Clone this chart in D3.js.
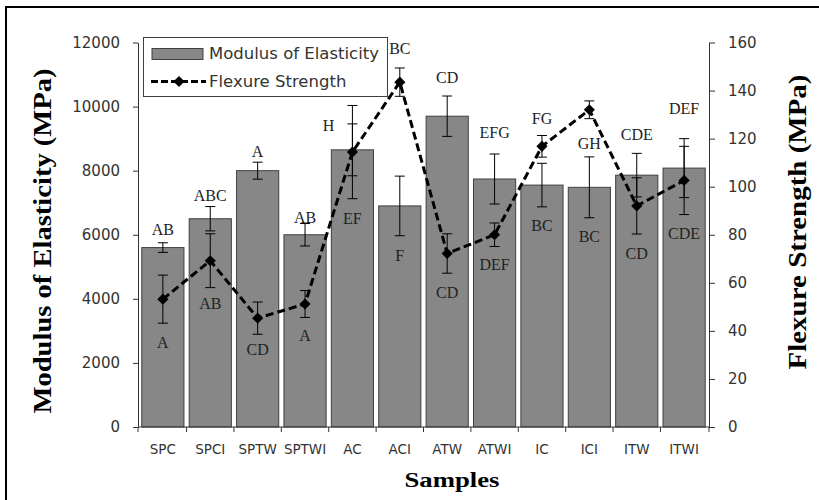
<!DOCTYPE html>
<html>
<head>
<meta charset="utf-8">
<script src="https://cdn.jsdelivr.net/npm/d3@7"></script>
<style>
  html, body { margin: 0; padding: 0; background: #fff; }
  svg { display: block; }
  .tick-label { font-family: "DejaVu Sans", sans-serif; fill: #333; }
  .letter { font-family: "Liberation Serif", serif; font-size: 16px; fill: #222; text-anchor: middle; }
  .title { font-family: "Liberation Serif", serif; font-weight: bold; fill: #000; }
</style>
</head>
<body>
<svg width="819" height="500"></svg>
<script>

const samples = ['SPC', 'SPCI', 'SPTW', 'SPTWI', 'AC', 'ACI', 'ATW', 'ATWI', 'IC', 'ICI', 'ITW', 'ITWI'];

const modulus    = [5600, 6500, 8000, 6000, 8650, 6900, 9700, 7740, 7550, 7480, 7860, 8080];
const modulusErr = [150, 380, 265, 350, 810, 930, 630, 780, 680, 950, 680, 920];

const flexure    = [53.2, 69.2, 45.3, 51.2, 114.4, 143.5, 72.2, 80.0, 116.8, 132.0, 92.0, 102.6];
const flexureErr = [10.0, 11.2, 6.7, 5.6, 19.4, 5.9, 8.2, 4.9, 4.5, 3.7, 11.7, 14.2];

// significance letters and where they sit (in MPa of the left axis)
const topLetters    = ['AB', 'ABC', 'A', 'AB', 'H', 'BC', 'CD', 'EFG', 'FG', 'GH', 'CDE', 'DEF'];
const topLetterAt   = [6180, 7240, 8610, 6550, 9425, 11830, 10920, 9190, 9640, 8850, 9145, 9955];
const lowLetters    = ['A', 'AB', 'CD', 'A', 'EF', 'F', 'CD', 'DEF', 'BC', 'BC', 'CD', 'CDE'];
const lowLetterAt   = [2650, 3870, 2420, 2870, 6520, 5370, 4210, 5090, 6280, 5960, 5430, 6055];

const leftTicks  = [0, 2000, 4000, 6000, 8000, 10000, 12000];
const rightTicks = [0, 20, 40, 60, 80, 100, 120, 140, 160];

const svg = d3.select('svg');

const plot = { left: 138, right: 709, top: 42.5, bottom: 427 };

const x = d3.scaleBand()
  .domain(samples)
  .range([plot.left, plot.right])
  .paddingInner(0.11)
  .paddingOuter(0.08);

const yL = d3.scaleLinear().domain([0, 12000]).range([plot.bottom, plot.top]);
const yR = d3.scaleLinear().domain([0, 160]).range([plot.bottom, plot.top]);

const cx = s => x(s) + x.bandwidth() / 2;

// outer frame
svg.append('rect')
  .attr('x', 6).attr('y', 7)
  .attr('width', 840).attr('height', 520)
  .attr('fill', 'none')
  .attr('stroke', '#000')
  .attr('stroke-width', 2);

// bars
svg.append('g')
  .selectAll('rect')
  .data(samples)
  .join('rect')
    .attr('x', d => x(d))
    .attr('y', (d, i) => yL(modulus[i]))
    .attr('width', x.bandwidth())
    .attr('height', (d, i) => yL(0) - yL(modulus[i]))
    .attr('fill', '#878787')
    .attr('stroke', '#404040')
    .attr('stroke-width', 1);

// error bars
function errorBars(vals, errs, scale) {
  const g = svg.append('g').attr('stroke', '#000').attr('stroke-width', 1);
  samples.forEach((s, i) => {
    const xc = cx(s);
    const y0 = scale(vals[i] - errs[i]);
    const y1 = scale(vals[i] + errs[i]);
    g.append('line').attr('x1', xc).attr('x2', xc).attr('y1', y0).attr('y2', y1);
    [y0, y1].forEach(yy => {
      g.append('line').attr('x1', xc - 5).attr('x2', xc + 5).attr('y1', yy).attr('y2', yy);
    });
  });
}
errorBars(modulus, modulusErr, yL);
errorBars(flexure, flexureErr, yR);

// flexure line
const line = d3.line()
  .x((d, i) => cx(samples[i]))
  .y(d => yR(d));

svg.append('path')
  .datum(flexure)
  .attr('d', line)
  .attr('fill', 'none')
  .attr('stroke', '#000')
  .attr('stroke-width', 3)
  .attr('stroke-dasharray', '8,4');

const diamond = d3.symbol().type(d3.symbolSquare).size(62);

svg.append('g')
  .selectAll('path')
  .data(flexure)
  .join('path')
    .attr('d', diamond)
    .attr('transform', (d, i) => `translate(${cx(samples[i])},${yR(d)}) rotate(45)`)
    .attr('fill', '#000');

// letters
svg.append('g')
  .selectAll('text')
  .data(topLetters)
  .join('text')
    .attr('class', 'letter')
    .attr('x', (d, i) => cx(samples[i]) + (samples[i] === 'AC' ? -24 : 0))
    .attr('y', (d, i) => yL(topLetterAt[i]))
    .attr('dy', '0.35em')
    .text(d => d);

svg.append('g')
  .selectAll('text')
  .data(lowLetters)
  .join('text')
    .attr('class', 'letter')
    .attr('x', (d, i) => cx(samples[i]))
    .attr('y', (d, i) => yL(lowLetterAt[i]))
    .attr('dy', '0.35em')
    .text(d => d);

// axes
const leftAxis = d3.axisLeft(yL).tickValues(leftTicks).tickSize(5).tickPadding(13).tickSizeOuter(0).tickFormat(d3.format('d'));
const rightAxis = d3.axisRight(yR).tickValues(rightTicks).tickSize(6).tickPadding(13).tickSizeOuter(0);

const gl = svg.append('g').attr('transform', `translate(${plot.left},0)`).call(leftAxis);
const gr = svg.append('g').attr('transform', `translate(${plot.right},0)`).call(rightAxis);

[gl, gr].forEach(g => {
  g.select('.domain').attr('stroke', '#333');
  g.selectAll('.tick line').attr('stroke', '#333');
  g.selectAll('.tick text')
    .attr('class', 'tick-label')
    .style('font-size', '15px');
});

// category axis
const step = x.step();
const gx = svg.append('g');
gx.append('line')
  .attr('x1', plot.left).attr('x2', plot.right)
  .attr('y1', plot.bottom).attr('y2', plot.bottom)
  .attr('stroke', '#333');

const bounds = samples.map(s => x(s) - (step - x.bandwidth()) / 2).concat([plot.right]);
bounds[0] = plot.left;
gx.selectAll('.xt')
  .data(bounds)
  .join('line')
    .attr('class', 'xt')
    .attr('x1', d => d).attr('x2', d => d)
    .attr('y1', plot.bottom).attr('y2', plot.bottom + 5)
    .attr('stroke', '#333');

gx.selectAll('text')
  .data(samples)
  .join('text')
    .attr('class', 'tick-label')
    .attr('x', d => cx(d))
    .attr('y', 449)
    .attr('dy', '0.35em')
    .attr('text-anchor', 'middle')
    .style('font-size', '13.5px')
    .text(d => d);

// titles
svg.append('text')
  .attr('class', 'title')
  .attr('transform', 'translate(42,241) rotate(-90)')
  .attr('dy', '0.35em')
  .attr('text-anchor', 'middle')
  .attr('textLength', 345)
  .attr('lengthAdjust', 'spacingAndGlyphs')
  .style('font-size', '26px')
  .text('Modulus of Elasticity (MPa)');

svg.append('text')
  .attr('class', 'title')
  .attr('transform', 'translate(797,222) rotate(-90)')
  .attr('dy', '0.35em')
  .attr('text-anchor', 'middle')
  .attr('textLength', 295)
  .attr('lengthAdjust', 'spacingAndGlyphs')
  .style('font-size', '26px')
  .text('Flexure Strength (MPa)');

svg.append('text')
  .attr('class', 'title')
  .attr('x', 452)
  .attr('y', 487)
  .attr('text-anchor', 'middle')
  .attr('textLength', 95)
  .attr('lengthAdjust', 'spacingAndGlyphs')
  .style('font-size', '21px')
  .text('Samples');

// legend
const lg = svg.append('g');
lg.append('rect')
  .attr('x', 143.5).attr('y', 37.5)
  .attr('width', 244).attr('height', 59)
  .attr('fill', '#fff')
  .attr('stroke', '#404040');

lg.append('rect')
  .attr('x', 152).attr('y', 48.5)
  .attr('width', 51).attr('height', 11)
  .attr('fill', '#878787')
  .attr('stroke', '#404040');

lg.append('line')
  .attr('x1', 151).attr('x2', 206)
  .attr('y1', 81.5).attr('y2', 81.5)
  .attr('stroke', '#000')
  .attr('stroke-width', 3)
  .attr('stroke-dasharray', '7,3');

lg.append('path')
  .attr('d', diamond)
  .attr('transform', 'translate(179,81.5) rotate(45)')
  .attr('fill', '#000');

lg.selectAll('.lt')
  .data(['Modulus of Elasticity', 'Flexure Strength'])
  .join('text')
    .attr('class', 'tick-label lt')
    .attr('x', 209)
    .attr('y', (d, i) => i ? 81.5 : 53.5)
    .attr('dy', '0.35em')
    .style('font-size', '16.5px')
    .text(d => d);

</script>
</body>
</html>
